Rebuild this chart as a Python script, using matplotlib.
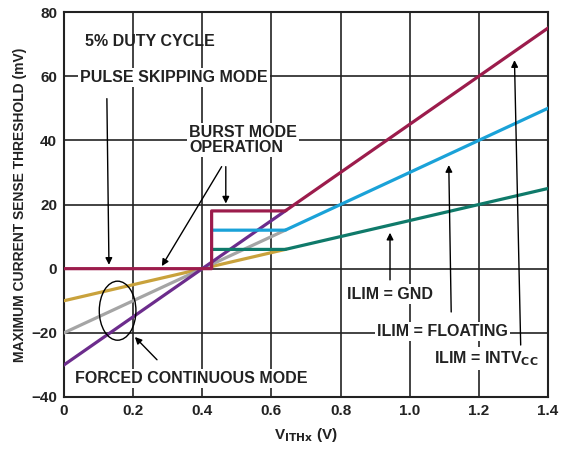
import matplotlib
matplotlib.use("Agg")
import matplotlib.pyplot as plt
from matplotlib.patches import Ellipse

plt.rcParams['font.family'] = ['Liberation Sans', 'DejaVu Sans']
plt.rcParams['font.weight'] = 'bold'
plt.rcParams['axes.labelweight'] = 'bold'

# forced continuous mode lines (only the part below the burst/skip curves is visible)
vith_fc = [0.0, 0.64]
fc_intvcc = [-30, 18]
fc_float = [-20, 12]
fc_gnd = [-10, 6]

# pulse skipping / burst mode curves
vith_ps = [0.0, 0.427, 0.427, 0.64, 1.4]
ps_intvcc = [0, 0, 18, 18, 75]
vith_burst = [0.427, 0.64, 1.4]
burst_float = [12, 12, 50]
burst_gnd = [6, 6, 25]

xticks = [0, 0.2, 0.4, 0.6, 0.8, 1.0, 1.2, 1.4]
xtick_labels = ['0', '0.2', '0.4', '0.6', '0.8', '1.0', '1.2', '1.4']
yticks = [-40, -20, 0, 20, 40, 60, 80]
ytick_labels = ['\u221240', '\u221220', '0', '20', '40', '60', '80']

c_intvcc = '#9c1c4c'
c_fc_intvcc = '#6c2c8c'
c_float = '#1aa2d8'
c_fc_float = '#a5a5a5'
c_gnd = '#0f7a6a'
c_fc_gnd = '#c9a23c'
ink = '#222222'

fig = plt.figure(figsize=(5.7, 4.5), dpi=100)
ax = fig.add_axes([0.1123, 0.1178, 0.8491, 0.8555])

ax.plot(vith_fc, fc_gnd, color=c_fc_gnd, lw=2.3, zorder=3)
ax.plot(vith_fc, fc_float, color=c_fc_float, lw=2.3, zorder=3)
ax.plot(vith_fc, fc_intvcc, color=c_fc_intvcc, lw=2.3, zorder=3)
ax.plot(vith_burst, burst_gnd, color=c_gnd, lw=2.3, zorder=4)
ax.plot(vith_burst, burst_float, color=c_float, lw=2.3, zorder=4)
ax.plot(vith_ps, ps_intvcc, color=c_intvcc, lw=2.3, zorder=5)

ax.set_xlim(0, 1.4)
ax.set_ylim(-40, 80)
ax.set_xticks(xticks)
ax.set_xticklabels(xtick_labels, fontweight='bold')
ax.set_yticks(yticks)
ax.set_yticklabels(ytick_labels, fontweight='bold')
ax.tick_params(length=0, labelsize=11, pad=5, labelcolor=ink)
ax.grid(True, color=ink, lw=1.2, zorder=1)
ax.set_axisbelow(True)
for s in ax.spines.values():
    s.set_linewidth(1.5)
    s.set_color(ink)

ax.set_xlabel('V$_{\\mathbf{ITHx}}$ (V)', fontsize=11, labelpad=6, color=ink)
ax.set_ylabel('MAXIMUM CURRENT SENSE THRESHOLD (mV)', fontsize=10, labelpad=3, color=ink)

box = dict(facecolor='white', edgecolor='none', pad=1.5)
tk = dict(fontsize=11.5, color=ink, zorder=6, fontweight='bold')
ax.text(0.06, 70.7, '5% DUTY CYCLE', ha='left', va='center', **tk)
ax.text(0.318, 59.5, 'PULSE SKIPPING MODE', ha='center', va='center', bbox=box, **tk)
ax.text(0.362, 40.1, 'BURST MODE\nOPERATION', ha='left', va='center', multialignment='left',
        linespacing=0.95, bbox=box, **tk)
ax.text(0.367, -34.3, 'FORCED CONTINUOUS MODE', ha='center', va='center', bbox=box, **tk)
ax.text(0.943, -7.9, 'ILIM = GND', ha='center', va='center', bbox=box, **tk)
ax.text(1.095, -19.7, 'ILIM = FLOATING', ha='center', va='center', bbox=box, **tk)
ax.text(1.22, -28.1, 'ILIM = INTV$_{\\mathbf{CC}}$', ha='center', va='center', bbox=box, **tk)

arrow = dict(arrowstyle='-|>', color='black', lw=1.0, mutation_scale=10, shrinkA=0, shrinkB=0)
arrows = [
    ((0.124, 53), (0.13, 1.2)),
    ((0.456, 31.8), (0.283, 0.8)),
    ((0.468, 31.8), (0.468, 20.3)),
    ((0.269, -28.4), (0.205, -21.3)),
    ((0.943, -3.5), (0.943, 11.2)),
    ((1.12, -13.5), (1.113, 32.3)),
    ((1.321, -23.8), (1.303, 65)),
]
for tail, tip in arrows:
    ax.annotate('', xy=tip, xytext=tail, arrowprops=arrow, zorder=5)

ax.add_patch(Ellipse((0.155, -13.1), 0.106, 18.4, fill=False, edgecolor='black', lw=1.0, zorder=6))

fig.savefig('out.png', dpi=100)
